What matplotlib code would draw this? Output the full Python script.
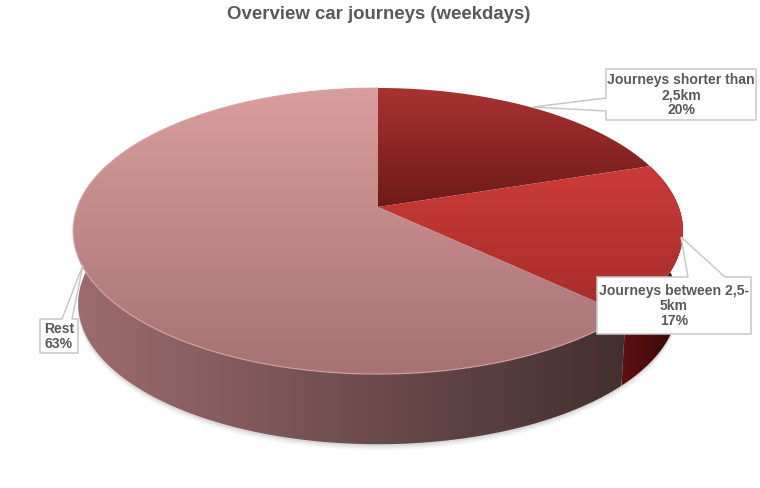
import numpy as np
import matplotlib
matplotlib.use("Agg")
import matplotlib.pyplot as plt
from matplotlib.patches import Polygon
from matplotlib.colors import LinearSegmentedColormap as LSC

plt.rcParams['font.family'] = ['Liberation Sans', 'DejaVu Sans']

title = "Overview car journeys (weekdays)"
categories = ["Journeys shorter than\n2,5km", "Journeys between 2,5-\n5km", "Rest"]
values = [20, 17, 63]
top_colors = [("#a83330", "#6e1a1a"), ("#cb3b38", "#a62c2a"), ("#da9d9d", "#a67272")]
wall_colors = [("#5a1010", "#5a1010"), ("#5e1010", "#340808"), ("#9c6c6e", "#432f2f")]
boxes = [(606, 69, 756, 120), (597, 277, 751, 334), (40, 319, 78, 353)]
callouts = [[(606, 98), (533, 107), (606, 111)],
            [(688, 277), (681, 237), (725, 277)],
            [(62, 319), (83, 265), (72, 319)]]
TEXT = "#595959"

CX, CY, R, B, K = 378.0, 207.0, 300.7, 139.0, 0.168
SCALE, DROP = 0.983, 73.0


def rim(t0, t1, scale=1.0, drop=0.0, n=240):
    """Perspective projection of a circle arc; angles clockwise from 12 o'clock."""
    t = np.radians(np.linspace(t0, t1, n))
    u, v = np.sin(t), -np.cos(t)
    d = 1 - K * v
    return np.c_[CX + scale * R * u / d, CY + drop + scale * B * v / d]


def gradient(ax, poly, c0, c1, horizontal, lo, hi, zorder):
    patch = Polygon(poly, closed=True, fc="none", ec="none", zorder=zorder)
    ax.add_patch(patch)
    ramp = np.linspace(0, 1, 256)
    if horizontal:
        img, ext = ramp[None, :], (lo, hi, 488, 0)
    else:
        img, ext = ramp[:, None], (0, 760, hi, lo)
    im = ax.imshow(img, cmap=LSC.from_list("g", [c0, c1]), extent=ext, aspect="auto",
                   origin="upper", zorder=zorder, interpolation="bilinear")
    im.set_clip_path(patch)


fig = plt.figure(figsize=(7.6, 4.88), dpi=100, facecolor="white")
ax = fig.add_axes([0, 0, 1, 1])
ax.axis("off")

edges = np.r_[0, np.cumsum(values)] / np.sum(values) * 360.0

# soft shadow under the disc
low = rim(90, 270, SCALE, DROP)
for off, a in [(6, .05), (4, .08), (2, .12)]:
    ax.add_patch(Polygon(low + [0, off], closed=True, fc="#606060", ec="none", alpha=a, zorder=1))

# walls
wall_ranges = [(1, 2, 622, 684), (2, 3, 78, 626)]
for idx, end, lo, hi in wall_ranges:
    t0, t1 = edges[idx], edges[end]
    poly = np.r_[rim(t0, t1), rim(t0, t1, SCALE, DROP)[::-1]]
    c0, c1 = wall_colors[idx]
    if idx == 2:
        # the wall is lit from the left, so its ramp runs from the far end
        gradient(ax, poly, c0, c1, True, lo, hi, 2)
    else:
        gradient(ax, poly, c0, c1, True, lo, hi, 2)

# top faces
for i, (c0, c1) in enumerate(top_colors):
    arc = rim(edges[i], edges[i + 1])
    poly = np.r_[[[CX, CY]], arc]
    ys = arc[:, 1]
    lo, hi = min(ys.min(), CY), max(ys.max(), CY)
    gradient(ax, poly, c0, c1, False, lo, hi, 3)

# pale highlight on the front rim of the largest slice
hl = rim(edges[2], 360)
ax.plot(hl[:, 0], hl[:, 1], color="#dcaaaa", lw=0.9, alpha=.75, zorder=4)

# label callouts
for label, val, (x0, y0, x1, y1), c in zip(categories, values, boxes, callouts):
    outline = [(x0, y0)]
    tail_top = c[0][1] == y0
    if tail_top:
        outline += [c[0], c[1], c[2]]
    outline += [(x1, y0), (x1, y1), (x0, y1)]
    if not tail_top:
        outline += [c[2], c[1], c[0]]
    ax.add_patch(Polygon(outline, closed=True, fc="white", ec="#c8c8c8", lw=1.1, zorder=5))
    ax.text((x0 + x1) / 2, (y0 + y1) / 2 + 0.5, f"{label}\n{val}%", ha="center", va="center",
            fontsize=10.1, fontweight="bold", color=TEXT, linespacing=1.12, zorder=6)

ax.text(378.5, 14.5, title, ha="center", va="center", fontsize=13.4, fontweight="bold", color=TEXT)

ax.set_xlim(0, 760)
ax.set_ylim(488, 0)
fig.savefig("out.png", dpi=100, facecolor="white")
